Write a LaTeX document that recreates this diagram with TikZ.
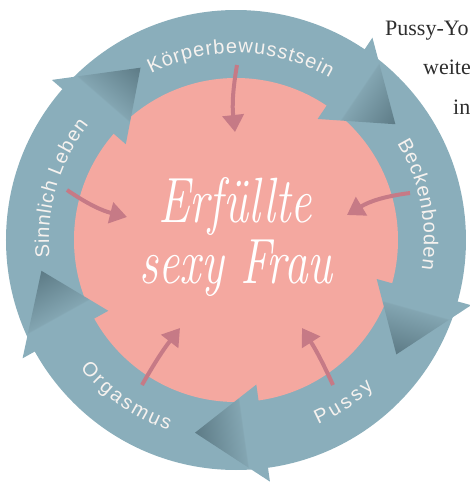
\documentclass[tikz,border=0pt]{standalone}
\usepackage{fontspec}
\usetikzlibrary{arrows.meta,decorations.text}
\newfontfamily\ringfont{Liberation Sans}
\newfontfamily\bodyfont{Liberation Serif}
\newcommand\rf{\ringfont\fontsize{20}{20}\selectfont}
\definecolor{ring}{HTML}{8AAEBB}
\definecolor{disk}{HTML}{F4A8A0}
\definecolor{parr}{HTML}{C67A86}
\definecolor{tipdark}{HTML}{5E7C87}
\definecolor{labelc}{HTML}{F6F2EF}
\definecolor{bodyc}{HTML}{2E2E2E}
\pgfdeclareverticalshading{arrsh}{100bp}{color(0bp)=(tipdark); color(26bp)=(tipdark); color(60bp)=(ring!95!black); color(61bp)=(ring); color(100bp)=(ring)}
\tikzset{
  parrow/.style={draw=parr, line width=4pt, -{Triangle[length=17pt,width=21pt]}},
  ringlabel/.style={decorate, decoration={text along path, text align=fit to path, text color=labelc, text={|\rf|#1}}},
  headshade/.style={shading=arrsh},
  bodytext/.style={font=\bodyfont\fontsize{22}{22}\selectfont, text=bodyc, anchor=base west, inner sep=0pt}
}
\newcommand\arrhead[1]{%
  \begin{scope}[transform canvas={rotate=#1}]
    \shade[headshade] (146,0) -- (244,0) -- (185.1,-67.4) -- cycle;
  \end{scope}}
\begin{document}
\begin{tikzpicture}[x=1pt,y=1pt]
\useasboundingbox (-236,-243) rectangle (234,240);
\clip (-236,-243) rectangle (234,240);
% ring and disk
\fill[ring] (0,0) circle[radius=230];
\fill[disk] (0,0) circle[radius=162];
% arrowheads
\arrhead{56}
\arrhead{-15.5}
\arrhead{278}
\arrhead{209}
\arrhead{139}
% labels on ring
\path[ringlabel={Körperbewusstsein}] (117:187) arc[start angle=117, end angle=60, radius=187];
\path[ringlabel={Beckenboden}] (31:188) arc[start angle=31, end angle=-9, radius=188];
\path[ringlabel={Pussy}] (-66:202) arc[start angle=-66, end angle=-47, radius=202];
\path[ringlabel={Orgasmus}] (219.5:202) arc[start angle=219.5, end angle=250.5, radius=202];
\path[ringlabel={Sinnlich Leben}] (185.5:187) arc[start angle=185.5, end angle=142, radius=187];
% pink arrows
\coordinate (ta) at (1,175);    \coordinate (ha) at (-1,108);
\coordinate (tb) at (-169,50);  \coordinate (hb) at (-109,23);
\coordinate (tc) at (174,47);   \coordinate (hc) at (111,25);
\coordinate (td) at (-94,-145); \coordinate (hd) at (-56,-88);
\coordinate (te) at (97,-145);  \coordinate (he) at (66,-88);
\draw[parrow] (ta) to[bend right=8] (ha);
\draw[parrow] (tb) to[bend right=10] (hb);
\draw[parrow] (tc) to[bend right=12] (hc);
\draw[parrow] (td) to[bend left=4] (hd);
\draw[parrow] (te) to[bend right=4] (he);
% center text
\node[font=\itshape\fontsize{64}{64}\selectfont, text=white, xscale=0.74, anchor=base] (c1) at (-1,18) {Erfüllte};
\node[font=\itshape\fontsize{64}{64}\selectfont, text=white, xscale=0.74, anchor=base] (c2) at (0,-43) {sexy Frau};
% body text at right
\node[bodytext] (b1) at (149,205) {Pussy-Yo};
\node[bodytext] (b2) at (187,166) {weite};
\node[bodytext] (b3) at (217,126) {in};
\end{tikzpicture}
\end{document}
